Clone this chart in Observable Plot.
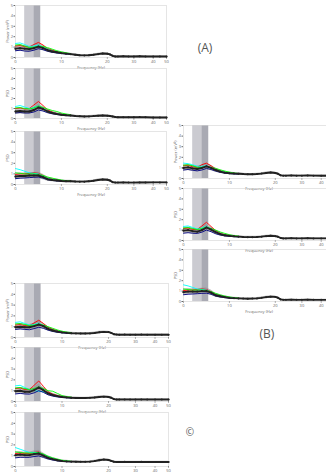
<!DOCTYPE html>
<html><head><meta charset="utf-8">
<script src="https://cdn.jsdelivr.net/npm/d3@7"></script>
<script src="https://cdn.jsdelivr.net/npm/@observablehq/plot@0.6"></script>
<style>
html,body{margin:0;padding:0;background:#fff;}
#fig{position:relative;width:326px;height:472px;overflow:hidden;font-family:"Open Sans",sans-serif;}
#fig svg{position:absolute;overflow:visible;}
.lab{position:absolute;color:#555;font-family:"Open Sans",sans-serif;transform:translate(-50%,-50%);white-space:nowrap;}
</style></head><body><div id="fig"></div>
<script>
// ---- data ----
const freq = [0,1,2,3,4,5,6,7,8,9,10,11,12,13,14,15,16,17,18,19,20,21,22,23,24,26,28,30,33,36,40,45,50];
const freqLow = [0,1,2,3,4,5,6,7,8,9,10,11,12];
const spread = [0.3,0.3,0.28,0.26,0.28,0.3,0.26,0.2,0.16,0.13,0.11,0.1,0.09,0.08,0.08,0.08,0.08,0.08,0.09,0.09,0.09,0.08,0.07,0.06,0.06,0.06,0.06,0.06,0.06,0.06,0.06,0.06,0.06];
const xTicks = [0,10,20,30,40,50];
const xTicksB = [0,10,20,30,40];
const yTicks = [0,1,2,3,4,5];
const bandStart = [2, 4];
const bandEnd = [4, 5.5];
const seriesNames = ["red","cyan","navy","lime"];
const xLabel = "Frequency (Hz)";
const yLabels = ["Power (mV²)","PSD","PSD"];
const panelTags = ["(A)","(B)","©"];

const meanA1 = [0.85,0.9,0.85,0.8,0.9,1.05,0.9,0.7,0.58,0.5,0.42,0.37,0.32,0.27,0.22,0.2,0.22,0.26,0.32,0.38,0.36,0.3,0.16,0.1,0.1,0.12,0.1,0.1,0.12,0.1,0.09,0.1,0.09];
const redA1  = [1.1,1.15,1.05,1.0,1.25,1.45,1.2,0.85,0.7,0.55,0.45,0.4,0.35];
const cyanA1 = [1.35,1.4,1.25,1.05,1.1,1.2,1.0,0.8,0.62,0.5,0.42,0.38,0.33];
const navyA1 = [0.65,0.7,0.62,0.6,0.7,0.85,0.75,0.6,0.5,0.43,0.38,0.34,0.3];
const limeA1 = [1.2,1.25,1.1,0.95,1.0,1.1,1.05,0.95,0.8,0.65,0.55,0.45,0.38];

const meanA2 = [0.7,0.75,0.7,0.7,0.85,1.1,0.95,0.7,0.55,0.45,0.38,0.33,0.3,0.25,0.22,0.2,0.21,0.24,0.28,0.3,0.28,0.25,0.2,0.15,0.13,0.12,0.12,0.12,0.14,0.12,0.1,0.1,0.1];
const redA2  = [1.0,1.05,0.95,1.0,1.35,1.7,1.3,0.85,0.65,0.5,0.42,0.36,0.32];
const cyanA2 = [1.2,1.3,1.15,1.0,1.1,1.25,1.0,0.75,0.58,0.48,0.4,0.35,0.3];
const navyA2 = [0.55,0.6,0.55,0.55,0.65,0.85,0.75,0.58,0.47,0.4,0.34,0.3,0.28];
const limeA2 = [1.05,1.1,1.0,0.95,1.05,1.25,1.1,0.95,0.8,0.7,0.55,0.45,0.38];

const meanA3 = [0.75,0.8,0.8,0.85,0.85,0.85,0.7,0.5,0.42,0.38,0.33,0.3,0.3,0.28,0.27,0.27,0.3,0.35,0.42,0.47,0.45,0.38,0.22,0.18,0.18,0.2,0.18,0.18,0.2,0.19,0.2,0.2,0.2];
const redA3  = [0.95,1.0,1.0,1.05,1.1,1.05,0.85,0.6,0.5,0.42,0.36,0.33,0.32];
const cyanA3 = [1.5,1.4,1.25,1.1,1.05,1.0,0.8,0.58,0.47,0.4,0.35,0.32,0.3];
const navyA3 = [0.55,0.6,0.62,0.65,0.68,0.7,0.6,0.45,0.38,0.34,0.3,0.28,0.28];
const limeA3 = [1.1,1.05,1.0,1.0,1.0,0.95,0.85,0.7,0.6,0.5,0.42,0.36,0.33];

const meanB1 = [1.0,1.05,0.95,0.9,1.0,1.15,1.0,0.8,0.65,0.55,0.5,0.47,0.45,0.42,0.4,0.4,0.42,0.46,0.52,0.56,0.52,0.45,0.3,0.27,0.27,0.28,0.27,0.27,0.28,0.27,0.26,0.26,0.26];
const redB1  = [1.2,1.25,1.1,1.05,1.3,1.45,1.2,0.9,0.72,0.6,0.52,0.48,0.45];
const cyanB1 = [1.45,1.4,1.3,1.15,1.15,1.2,1.0,0.85,0.7,0.6,0.52,0.47,0.44];
const navyB1 = [0.8,0.85,0.78,0.72,0.8,0.95,0.85,0.7,0.58,0.5,0.46,0.43,0.42];
const limeB1 = [1.25,1.3,1.2,1.05,1.05,1.15,1.05,0.95,0.82,0.7,0.6,0.52,0.47];

const meanB2 = [0.95,1.0,0.9,0.85,1.0,1.25,1.05,0.8,0.62,0.5,0.45,0.4,0.37,0.34,0.32,0.32,0.34,0.37,0.42,0.45,0.42,0.36,0.24,0.2,0.2,0.22,0.2,0.2,0.22,0.2,0.2,0.2,0.2];
const redB2  = [1.15,1.2,1.05,1.05,1.4,1.75,1.35,0.95,0.7,0.55,0.47,0.42,0.38];
const cyanB2 = [1.35,1.4,1.25,1.1,1.2,1.35,1.1,0.85,0.65,0.52,0.45,0.4,0.37];
const navyB2 = [0.7,0.75,0.7,0.68,0.8,1.0,0.85,0.65,0.52,0.44,0.4,0.37,0.35];
const limeB2 = [1.2,1.25,1.15,1.05,1.15,1.3,1.15,1.0,0.82,0.68,0.56,0.47,0.42];

const meanB3 = [0.9,0.95,0.95,0.95,1.0,1.0,0.85,0.6,0.5,0.42,0.35,0.32,0.3,0.28,0.27,0.28,0.3,0.35,0.42,0.46,0.44,0.36,0.2,0.16,0.16,0.17,0.16,0.16,0.17,0.16,0.16,0.16,0.16];
const redB3  = [1.05,1.1,1.1,1.15,1.2,1.15,0.95,0.7,0.55,0.45,0.38,0.34,0.31];
const cyanB3 = [1.6,1.5,1.35,1.2,1.15,1.1,0.9,0.66,0.52,0.43,0.37,0.33,0.3];
const navyB3 = [0.65,0.7,0.72,0.75,0.78,0.8,0.7,0.52,0.43,0.37,0.32,0.3,0.28];
const limeB3 = [1.2,1.15,1.1,1.1,1.1,1.05,0.95,0.78,0.64,0.52,0.44,0.37,0.33];

const meanC1 = [0.95,1.0,0.95,0.95,1.05,1.2,1.05,0.8,0.65,0.55,0.47,0.43,0.4,0.38,0.37,0.37,0.38,0.42,0.48,0.52,0.5,0.42,0.3,0.27,0.26,0.27,0.26,0.26,0.27,0.26,0.26,0.26,0.26];
const redC1  = [1.15,1.2,1.1,1.1,1.35,1.6,1.3,0.95,0.75,0.6,0.5,0.45,0.42];
const cyanC1 = [1.4,1.45,1.3,1.15,1.2,1.3,1.1,0.85,0.68,0.56,0.48,0.44,0.4];
const navyC1 = [0.75,0.8,0.75,0.72,0.82,0.95,0.85,0.68,0.56,0.48,0.43,0.4,0.38];
const limeC1 = [1.25,1.3,1.2,1.1,1.15,1.25,1.15,1.0,0.85,0.7,0.58,0.5,0.45];

const meanC2 = [0.95,1.0,0.9,0.9,1.05,1.3,1.05,0.75,0.6,0.5,0.42,0.38,0.35,0.33,0.32,0.32,0.34,0.37,0.42,0.45,0.42,0.35,0.22,0.18,0.18,0.19,0.18,0.18,0.19,0.18,0.18,0.18,0.18];
const redC2  = [1.2,1.25,1.1,1.1,1.5,1.9,1.4,0.9,0.68,0.55,0.45,0.4,0.36];
const cyanC2 = [1.45,1.5,1.3,1.1,1.0,0.95,0.9,0.75,0.6,0.5,0.42,0.38,0.35];
const navyC2 = [0.7,0.75,0.7,0.68,0.8,1.0,0.85,0.62,0.5,0.42,0.37,0.34,0.32];
const limeC2 = [1.25,1.3,1.2,1.1,1.2,1.35,1.2,1.0,0.95,0.75,0.55,0.45,0.4];

const meanC3 = [1.05,1.1,1.05,1.05,1.15,1.2,1.0,0.8,0.68,0.58,0.5,0.47,0.45,0.44,0.43,0.43,0.45,0.5,0.58,0.64,0.6,0.52,0.44,0.42,0.42,0.43,0.42,0.42,0.43,0.42,0.42,0.42,0.42];
const redC3  = [1.2,1.25,1.2,1.2,1.3,1.35,1.1,0.88,0.72,0.6,0.52,0.48,0.46];
const cyanC3 = [1.75,1.6,1.45,1.3,1.3,1.3,1.1,0.9,0.74,0.62,0.54,0.49,0.46];
const navyC3 = [0.8,0.85,0.85,0.85,0.92,0.98,0.85,0.7,0.6,0.52,0.47,0.45,0.44];
const limeC3 = [1.35,1.3,1.25,1.25,1.25,1.3,1.15,0.95,0.8,0.68,0.58,0.52,0.48];

// ---- layout ----
// the frequency axis is piecewise: equal steps to 20 Hz, compressed above
const xFrac = [0, 0.304, 0.608, 0.784, 0.912, 1];
const warp = d3.scaleLinear().domain(xTicks).range(xFrac);
const unwarp = d3.scaleLinear().domain(xFrac).range(xTicks);

const panels = [
  {mean: meanA1, series: [redA1,cyanA1,navyA1,limeA1], left: 0,   top: 2,   w: 170, h: 52, yl: 0, xl: true,  tk: xTicks},
  {mean: meanA2, series: [redA2,cyanA2,navyA2,limeA2], left: 0,   top: 65,  w: 170, h: 50, yl: 1, xl: true,  tk: xTicks},
  {mean: meanA3, series: [redA3,cyanA3,navyA3,limeA3], left: 0,   top: 128, w: 170, h: 53, yl: 2, xl: true,  tk: xTicks},
  {mean: meanB1, series: [redB1,cyanB1,navyB1,limeB1], left: 168, top: 122, w: 170, h: 53, yl: 0, xl: true,  tk: xTicksB},
  {mean: meanB2, series: [redB2,cyanB2,navyB2,limeB2], left: 168, top: 185, w: 170, h: 52, yl: 1, xl: true,  tk: xTicksB},
  {mean: meanB3, series: [redB3,cyanB3,navyB3,limeB3], left: 168, top: 246, w: 170, h: 52, yl: 2, xl: true,  tk: xTicksB},
  {mean: meanC1, series: [redC1,cyanC1,navyC1,limeC1], left: 0,   top: 280, w: 172, h: 54, yl: 0, xl: true,  tk: xTicks},
  {mean: meanC2, series: [redC2,cyanC2,navyC2,limeC2], left: 0,   top: 344, w: 172, h: 54, yl: 1, xl: true,  tk: xTicks},
  {mean: meanC3, series: [redC3,cyanC3,navyC3,limeC3], left: 0,   top: 409, w: 172, h: 54, yl: 2, xl: false, tk: xTicks}
];
const fig = document.getElementById("fig");
const ML = 15, MR = 4, MT = 3, MB = 14;

panels.forEach(p => {
  const meanData = freq.map((f, i) => ({u: warp(f), m: p.mean[i], lo: p.mean[i] - spread[i], hi: p.mean[i] + spread[i]}));
  const lowData = [];
  p.series.forEach((arr, k) => arr.forEach((v, i) => lowData.push({u: warp(freqLow[i]), v, s: seriesNames[k]})));
  const bands = bandStart.map((b, i) => ({u1: warp(b), u2: warp(bandEnd[i]), k: i}));
  const chart = Plot.plot({
    width: p.w, height: p.h + MT + MB,
    marginLeft: ML, marginRight: MR, marginTop: MT, marginBottom: MB,
    style: {fontSize: "4px", color: "#666", background: "transparent", fontFamily: "Open Sans, sans-serif"},
    x: {domain: [0, 1], ticks: p.tk.map(t => warp(t)), tickFormat: u => String(Math.round(unwarp(u))),
        tickSize: 1.5, tickPadding: 1, label: p.xl ? xLabel : null, labelAnchor: "center", labelOffset: 11, labelArrow: "none"},
    y: {domain: [0, 5], ticks: yTicks, tickFormat: d => String(d), tickSize: 1.5, tickPadding: 1,
        label: yLabels[p.yl], labelAnchor: "center", labelOffset: 9, labelArrow: "none"},
    color: {domain: seriesNames, range: ["#b04a60", "#5ec6c8", "#34376e", "#d9dca6"]},
    marks: [
      Plot.rect(bands, {x1: "u1", x2: "u2", fill: d => d.k === 0 ? "#cbcbd1" : "#a9aab3"}),
      Plot.frame({stroke: "#d4d4d4", strokeWidth: 0.6}),
      Plot.areaY(meanData, {x: "u", y1: "lo", y2: "hi", fill: "#8c8c8c", fillOpacity: 0.55}),
      Plot.line(lowData, {x: "u", y: "v", z: "s", stroke: "s", strokeWidth: 0.9}),
      Plot.line(meanData, {x: "u", y: "m", stroke: "#222", strokeWidth: 1.9}),
      Plot.dot(meanData, {x: "u", y: "m", r: 1, fill: "#222"})
    ]
  });
  chart.style.left = p.left + "px";
  chart.style.top = p.top + "px";
  fig.appendChild(chart);
});

const tagPos = [{x: 205, y: 47, s: 12}, {x: 267, y: 333, s: 12}, {x: 190, y: 432, s: 10}];
panelTags.forEach((t, i) => {
  const d = document.createElement("div");
  d.className = "lab";
  d.textContent = t;
  d.style.left = tagPos[i].x + "px";
  d.style.top = tagPos[i].y + "px";
  d.style.fontSize = tagPos[i].s + "px";
  fig.appendChild(d);
});
</script></body></html>
